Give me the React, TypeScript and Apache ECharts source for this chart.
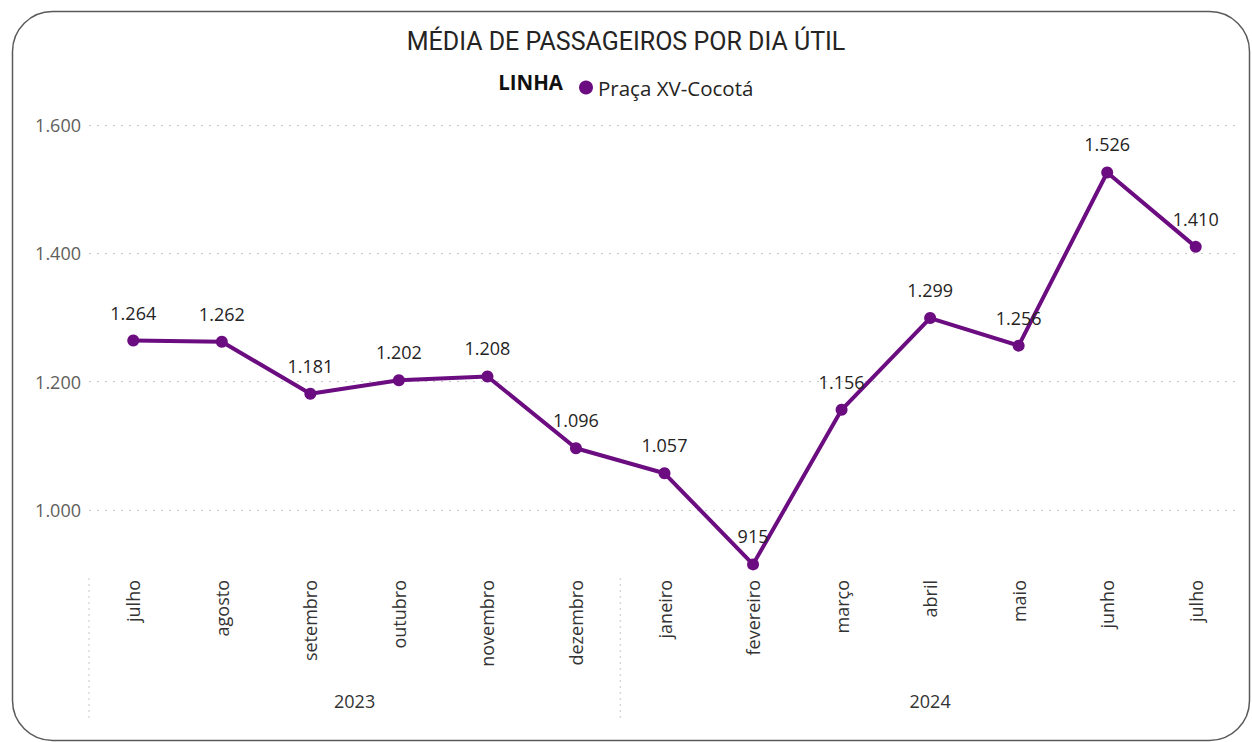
import React, { useEffect, useRef } from "react";
import * as echarts from "echarts";

const months = ["julho", "agosto", "setembro", "outubro", "novembro", "dezembro", "janeiro", "fevereiro", "março", "abril", "maio", "junho", "julho"];
const values = [1264, 1262, 1181, 1202, 1208, 1096, 1057, 915, 1156, 1299, 1256, 1526, 1410];
const years = ["2023", "2024"];
const yearStart = [0, 6];
const yearEnd = [5, 12];
const seriesName = "Praça XV-Cocotá";

const PURPLE = "#6B0C80";
const FONT = "'Open Sans', 'Noto Sans', sans-serif";

const fmt = (v: number) => Math.round(v).toString().replace(/\B(?=(\d{3})+(?!\d))/g, ".");

export default function App() {
  const ref = useRef<HTMLDivElement>(null);
  useEffect(() => {
    document.body.style.margin = "0";
    const chart = echarts.init(ref.current!, null, { renderer: "svg" });
    const option: any = {
      animation: false,
      backgroundColor: "#fff",
      title: {
        text: "MÉDIA DE PASSAGEIROS POR DIA ÚTIL",
        left: "center",
        top: 24,
        textStyle: { fontFamily: "Roboto, sans-serif", fontSize: 25, fontWeight: "normal", color: "#252423" },
      },
      legend: {
        left: 574,
        top: 72,
        icon: "circle",
        itemWidth: 14,
        itemHeight: 14,
        itemGap: 5,
        data: [seriesName],
        textStyle: { fontFamily: FONT, fontSize: 20.5, color: "#252423" },
      },
      grid: { left: 89, right: 12, top: 125, bottom: 168, containLabel: false },
      xAxis: {
        type: "category",
        data: months,
        boundaryGap: true,
        axisLine: { show: false },
        axisTick: { show: false },
        axisLabel: {
          rotate: 90,
          margin: 6,
          fontFamily: FONT,
          fontSize: 18,
          color: "#333",
          interval: 0,
        },
      },
      yAxis: {
        type: "value",
        min: 900,
        max: 1600,
        splitNumber: 4,
        axisLine: { show: false },
        axisTick: { show: false },
        axisLabel: {
          margin: 8,
          fontFamily: FONT,
          fontSize: 18,
          color: "#605E5C",
          formatter: (v: number) => (v % 200 === 0 ? fmt(v) : ""),
        },
        splitLine: {
          show: true,
          showMinLine: false,
          lineStyle: { type: [2, 6], color: "#C8C8C8", width: 1 },
        },
      },
      series: [
        {
          name: seriesName,
          type: "line",
          data: values,
          color: PURPLE,
          symbol: "circle",
          symbolSize: 12,
          lineStyle: { width: 4, color: PURPLE },
          itemStyle: { color: PURPLE },
          label: {
            show: true,
            position: "top",
            distance: 13,
            fontFamily: FONT,
            fontSize: 18,
            color: "#252423",
            formatter: (p: any) => fmt(p.value),
          },
        },
      ],
    };
    chart.setOption(option);

    const px = (i: number) => chart.convertToPixel({ xAxisIndex: 0 }, i) as number;
    const band = px(1) - px(0);
    const graphics: any[] = [
      {
        type: "rect",
        shape: { x: 12.5, y: 11.5, width: 1237, height: 729, r: 40 },
        style: { fill: "none", stroke: "#5a5a5a", lineWidth: 1.5 },
        silent: true,
      },
      {
        type: "text",
        right: 1252 - 563,
        top: 71,
        style: { text: "LINHA", fontFamily: FONT, fontSize: 20.5, fontWeight: "bold", fill: "#111" },
      },
    ];
    years.forEach((y, k) => {
      const cx = (px(yearStart[k]) + px(yearEnd[k])) / 2;
      graphics.push({
        type: "text",
        x: cx,
        y: 701,
        style: { text: y, fontFamily: FONT, fontSize: 18, fill: "#333", align: "center", verticalAlign: "middle" },
      });
      const sx = px(yearStart[k]) - band / 2;
      graphics.push({
        type: "line",
        shape: { x1: sx, y1: 578, x2: sx, y2: 718 },
        style: { stroke: "#C8C8C8", lineWidth: 1, lineDash: [2, 4] },
      });
    });
    chart.setOption({ graphic: graphics });
    return () => chart.dispose();
  }, []);
  return <div ref={ref} style={{ position: "fixed", left: 0, top: 0, width: 1252, height: 742 }} />;
}
